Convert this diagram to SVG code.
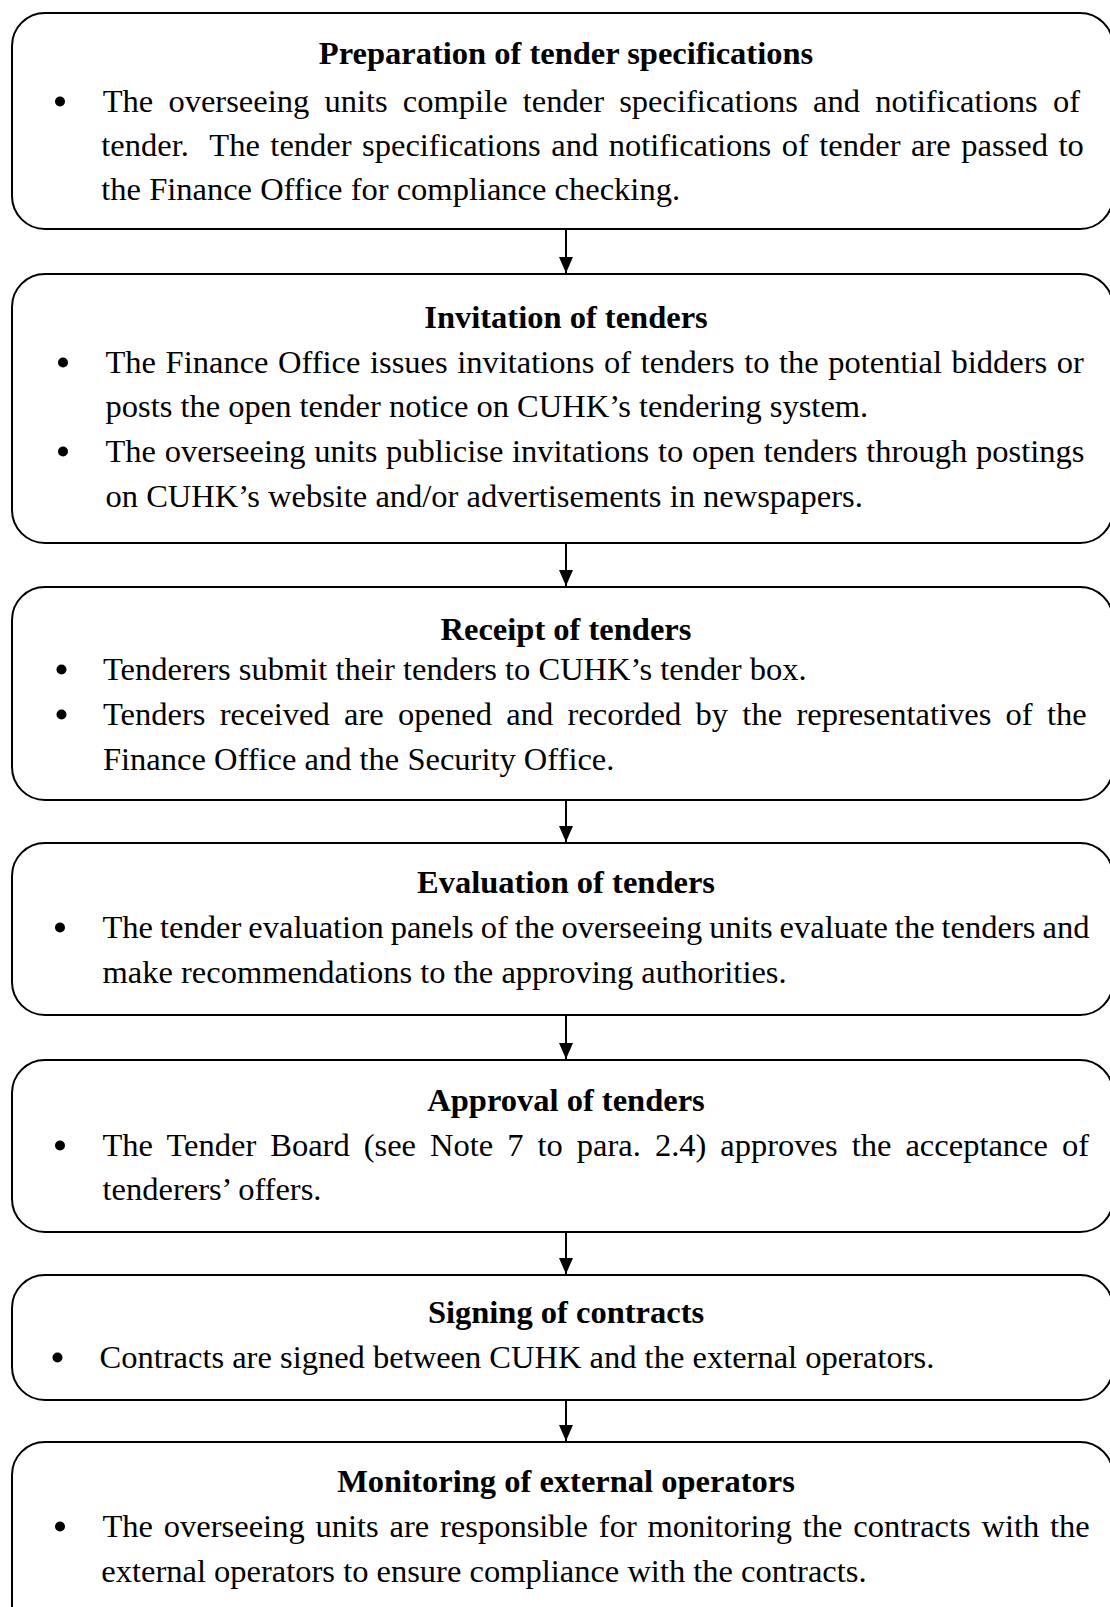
<svg xmlns="http://www.w3.org/2000/svg" width="1110" height="1607" viewBox="0 0 1110 1607">
<style>
.box{fill:#fff;stroke:#000;stroke-width:2}
.t{font-family:"Liberation Serif","Times New Roman",serif;font-size:32.5px;fill:#000}
.h{font-weight:bold;text-anchor:middle}
.dot{fill:#000}
.con{stroke:#000;stroke-width:2;fill:none}
</style>
<defs>
<marker id="ah" markerUnits="userSpaceOnUse" markerWidth="16" markerHeight="14" viewBox="0 0 16 14" refX="16" refY="7" orient="auto">
<path d="M0,0 L16,7 L0,14 z" fill="#000"/>
</marker>
</defs>
<rect width="1110" height="1607" fill="#fff"/>

<g id="node1">
<rect class="box" x="12" y="13" width="1101" height="216" rx="33" ry="33"/>
<text class="t h" x="566" y="64">Preparation of tender specifications</text>
<circle class="dot" cx="60" cy="101.5" r="5"/>
<text class="t" x="102.7" y="112" word-spacing="7.1">The overseeing units compile tender specifications and notifications of</text>
<text class="t" x="101.3" y="156" word-spacing="2.4" xml:space="preserve">tender.  The tender specifications and notifications of tender are passed to</text>
<text class="t" x="101.3" y="200">the Finance Office for compliance checking.</text>
</g>

<g id="node2">
<rect class="box" x="12" y="274" width="1101" height="269" rx="33" ry="33"/>
<text class="t h" x="566" y="328">Invitation of tenders</text>
<circle class="dot" cx="63" cy="362.5" r="5"/>
<text class="t" x="105.5" y="373" word-spacing="1.45">The Finance Office issues invitations of tenders to the potential bidders or</text>
<text class="t" x="105.5" y="417">posts the open tender notice on CUHK’s tendering system.</text>
<circle class="dot" cx="63" cy="451.5" r="5"/>
<text class="t" x="105.5" y="462" word-spacing="0.55">The overseeing units publicise invitations to open tenders through postings</text>
<text class="t" x="105.5" y="506.5">on CUHK’s website and/or advertisements in newspapers.</text>
</g>

<g id="node3">
<rect class="box" x="12" y="587" width="1101" height="213" rx="33" ry="33"/>
<text class="t h" x="566" y="640">Receipt of tenders</text>
<circle class="dot" cx="61.5" cy="669.5" r="5"/>
<text class="t" x="103" y="680">Tenderers submit their tenders to CUHK’s tender box.</text>
<circle class="dot" cx="61.5" cy="714.5" r="5"/>
<text class="t" x="103" y="725" word-spacing="6.2">Tenders received are opened and recorded by the representatives of the</text>
<text class="t" x="103" y="770">Finance Office and the Security Office.</text>
</g>

<g id="node4">
<rect class="box" x="12" y="843" width="1101" height="172" rx="33" ry="33"/>
<text class="t h" x="566" y="893">Evaluation of tenders</text>
<circle class="dot" cx="60" cy="927.5" r="5"/>
<text class="t" x="102.5" y="938" word-spacing="-1.1">The tender evaluation panels of the overseeing units evaluate the tenders and</text>
<text class="t" x="102.5" y="983">make recommendations to the approving authorities.</text>
</g>

<g id="node5">
<rect class="box" x="12" y="1060" width="1101" height="172" rx="33" ry="33"/>
<text class="t h" x="566" y="1110.5">Approval of tenders</text>
<circle class="dot" cx="60" cy="1145.5" r="5"/>
<text class="t" x="102.5" y="1156" word-spacing="5.9">The Tender Board (see Note 7 to para. 2.4) approves the acceptance of</text>
<text class="t" x="102.5" y="1200">tenderers’ offers.</text>
</g>

<g id="node6">
<rect class="box" x="12" y="1275" width="1101" height="125" rx="33" ry="33"/>
<text class="t h" x="566" y="1323">Signing of contracts</text>
<circle class="dot" cx="57.5" cy="1357.5" r="5"/>
<text class="t" x="99.5" y="1368">Contracts are signed between CUHK and the external operators.</text>
</g>

<g id="node7">
<rect class="box" x="12" y="1442" width="1101" height="200" rx="33" ry="33"/>
<text class="t h" x="566" y="1492">Monitoring of external operators</text>
<circle class="dot" cx="60" cy="1526.5" r="5"/>
<text class="t" x="102.5" y="1537" word-spacing="2.7">The overseeing units are responsible for monitoring the contracts with the</text>
<text class="t" x="101.3" y="1582">external operators to ensure compliance with the contracts.</text>
</g>

<g id="connectors">
<line class="con" x1="566" y1="229" x2="566" y2="273" marker-end="url(#ah)"/>
<line class="con" x1="566" y1="543" x2="566" y2="586" marker-end="url(#ah)"/>
<line class="con" x1="566" y1="800" x2="566" y2="842" marker-end="url(#ah)"/>
<line class="con" x1="566" y1="1015" x2="566" y2="1059" marker-end="url(#ah)"/>
<line class="con" x1="566" y1="1232" x2="566" y2="1274" marker-end="url(#ah)"/>
<line class="con" x1="566" y1="1400" x2="566" y2="1441" marker-end="url(#ah)"/>
</g>
</svg>
